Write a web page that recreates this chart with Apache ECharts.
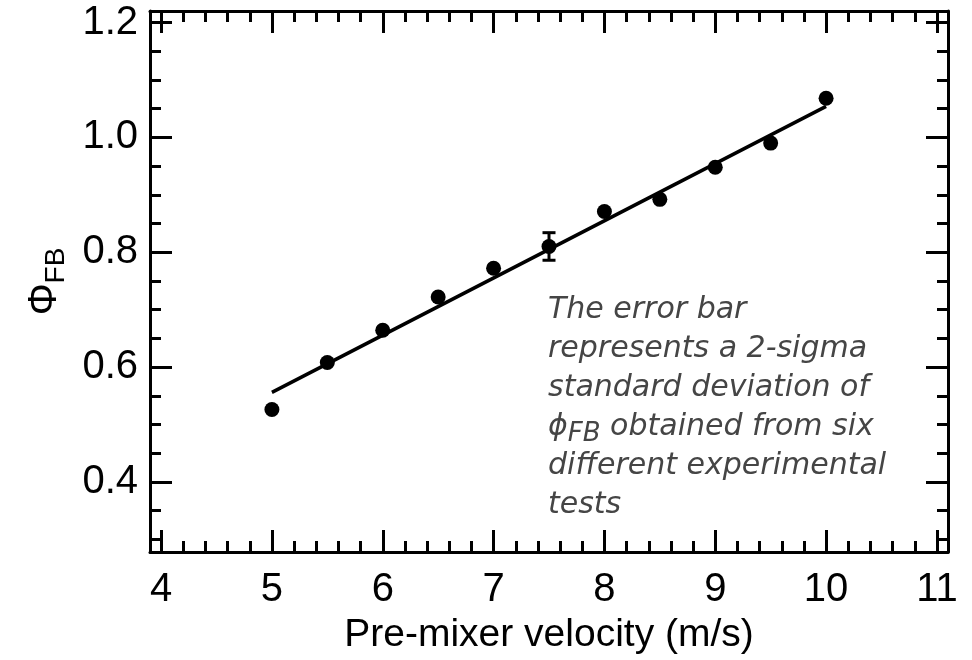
<!DOCTYPE html>
<html>
<head>
<meta charset="utf-8">
<script src="https://cdn.jsdelivr.net/npm/echarts@6/dist/echarts.min.js"></script>
<style>
  html, body { margin: 0; padding: 0; background: #fff; }
  #chart { width: 972px; height: 660px; }
</style>
</head>
<body>
<div id="chart"></div>
<script>
// measured points
const velocity = [5, 5.5, 6, 6.5, 7, 7.5, 8, 8.5, 9, 9.5, 10];
const phiFB = [0.526, 0.608, 0.664, 0.722, 0.772, 0.810, 0.871, 0.892, 0.948, 0.990, 1.068];
// linear fit drawn through the data
const fitX = [5, 10];
const fitY = [0.556, 1.054];
// 2-sigma error bar at 7.5 m/s
const errX = [7.5];
const errLow = [0.786];
const errHigh = [0.834];
// ticks
const xMajor = [4, 5, 6, 7, 8, 9, 10, 11];
const yMajor = [0.4, 0.6, 0.8, 1.0, 1.2];

const xMinor = [];
for (let i = 20; i <= 55; i++) {
  const v = Math.round(i * 20) / 100;
  if (v > 3.9 && v < 11.1 && Math.abs(v - Math.round(v)) > 1e-6) xMinor.push(v);
}
const yMinor = [];
for (let i = 6; i <= 24; i++) {
  const v = Math.round(i * 5) / 100;
  if (v > 0.278 && v < 1.22 && Math.abs(v * 5 - Math.round(v * 5)) > 1e-6) yMinor.push(v);
}

const lineStyle = { color: '#000', width: 3 };
const labelFont = { fontFamily: 'Liberation Sans, Arial, sans-serif', fontSize: 40, color: '#000' };

const X_MIN = 3.9, X_MAX = 11.1, Y_MIN = 0.278, Y_MAX = 1.22;

const mkX = (position, ticks, length, showLine, showLabel, extra) => Object.assign({
  type: 'value', position, min: X_MIN, max: X_MAX,
  axisLine: { show: showLine, onZero: false, lineStyle },
  axisTick: { show: true, inside: true, length, customValues: ticks, lineStyle },
  axisLabel: showLabel ? Object.assign({ margin: 18, customValues: xMajor, formatter: (v) => String(v) }, labelFont) : { show: false },
  splitLine: { show: false },
}, extra || {});

const mkY = (position, ticks, length, showLine, showLabel, extra) => Object.assign({
  type: 'value', position, min: Y_MIN, max: Y_MAX,
  axisLine: { show: showLine, onZero: false, lineStyle },
  axisTick: { show: true, inside: true, length, customValues: ticks, lineStyle },
  axisLabel: showLabel ? Object.assign({ margin: 12, customValues: yMajor, formatter: (v) => v.toFixed(1) }, labelFont) : { show: false },
  splitLine: { show: false },
}, extra || {});

const chart = echarts.init(document.getElementById('chart'));
const option = {
  animation: false,
  grid: { left: 150, right: 24, top: 11, bottom: 108 },
  xAxis: [
    mkX('bottom', xMajor, 22, true, true, {
      name: 'Pre-mixer velocity (m/s)', nameLocation: 'middle', nameGap: 64,
      nameTextStyle: { fontFamily: 'Liberation Sans, Arial, sans-serif', fontSize: 39, color: '#000' },
    }),
    mkX('bottom', xMinor, 11, false, false),
    mkX('top', xMajor, 22, true, false),
    mkX('top', xMinor, 11, false, false),
  ],
  yAxis: [
    mkY('left', yMajor, 22, true, true, {
      name: '{a|Φ}{b|FB}', nameLocation: 'middle', nameGap: 80,
      nameTextStyle: {
        fontFamily: 'Liberation Sans, Arial, sans-serif', color: '#000',
        rich: {
          a: { fontFamily: 'Liberation Sans, Arial, sans-serif', fontSize: 40, lineHeight: 50, color: '#000' },
          b: { fontFamily: 'Liberation Sans, Arial, sans-serif', fontSize: 28, lineHeight: 26, verticalAlign: 'bottom', color: '#000' },
        },
      },
    }),
    mkY('left', yMinor, 11, false, false),
    mkY('right', yMajor, 22, true, false),
    mkY('right', yMinor, 11, false, false),
  ],
  series: [
    {
      type: 'line', xAxisIndex: 0, yAxisIndex: 0,
      data: fitX.map((x, i) => [x, fitY[i]]),
      showSymbol: false, lineStyle: { color: '#000', width: 3.5 }, z: 2,
    },
    {
      type: 'custom', xAxisIndex: 0, yAxisIndex: 0,
      data: errX.map((x, i) => [x, errLow[i], errHigh[i]]),
      renderItem: (params, api) => {
        const lo = api.coord([api.value(0), api.value(1)]);
        const hi = api.coord([api.value(0), api.value(2)]);
        const w = 6.5;
        const st = { stroke: '#000', lineWidth: 3 };
        return {
          type: 'group',
          children: [
            { type: 'line', shape: { x1: lo[0], y1: lo[1], x2: hi[0], y2: hi[1] }, style: st },
            { type: 'line', shape: { x1: lo[0] - w, y1: lo[1], x2: lo[0] + w, y2: lo[1] }, style: st },
            { type: 'line', shape: { x1: hi[0] - w, y1: hi[1], x2: hi[0] + w, y2: hi[1] }, style: st },
          ],
        };
      },
      z: 3,
    },
    {
      type: 'scatter', xAxisIndex: 0, yAxisIndex: 0,
      data: velocity.map((x, i) => [x, phiFB[i]]),
      symbol: 'circle', symbolSize: 15, itemStyle: { color: '#000', opacity: 1 }, z: 4,
    },
  ],
  graphic: [
    {
      type: 'text', left: 548, top: 291,
      style: {
        text: 'The error bar\nrepresents a 2-sigma\nstandard deviation of\n{p|ϕ}{s|FB} obtained from six\ndifferent experimental\ntests',
        fontFamily: 'DejaVu Sans, sans-serif', fontStyle: 'italic', fontSize: 30,
        lineHeight: 39, fill: '#454545',
        rich: {
          p: { fontFamily: 'DejaVu Sans, sans-serif', fontStyle: 'italic', fontSize: 30, lineHeight: 39, fill: '#454545' },
          s: { fontFamily: 'DejaVu Sans, sans-serif', fontStyle: 'italic', fontSize: 26, lineHeight: 22, verticalAlign: 'bottom', fill: '#454545' },
        },
      },
    },
  ],
};
chart.setOption(option);
</script>
</body>
</html>
